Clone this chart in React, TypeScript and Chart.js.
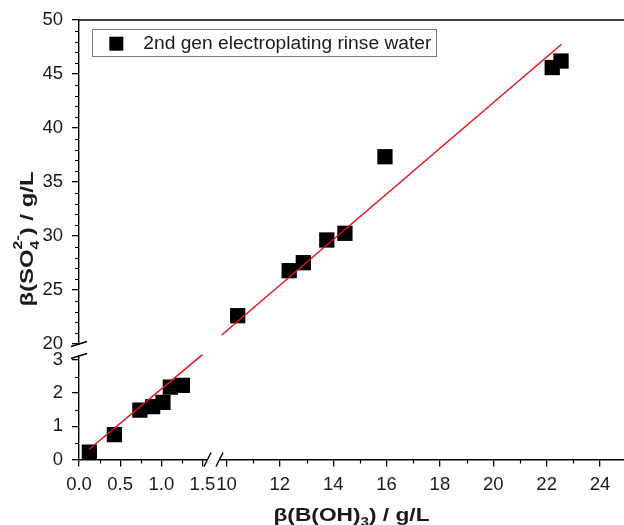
import React, { useEffect, useRef } from 'react';
import { Chart, registerables } from 'chart.js';

Chart.register(...registerables);

// ---------- data ----------
const seriesLabel = '2nd gen electroplating rinse water';

// low concentration range (β(B(OH)3) 0–1.6 g/L, β(SO4 2-) 0–3.5 g/L)
const lowX = [0.126, 0.43, 0.74, 0.895, 1.02, 1.11, 1.256];
const lowY = [0.22, 0.75, 1.49, 1.59, 1.72, 2.18, 2.23];

// high concentration range (β(B(OH)3) 9.5–25 g/L, β(SO4 2-) 20–50 g/L)
const highX = [10.42, 12.35, 12.88, 13.76, 14.44, 15.94, 22.21, 22.54];
const highY = [22.62, 26.79, 27.53, 29.63, 30.25, 37.34, 45.6, 46.2];

// linear fit (red line), drawn on each axis segment
const fitLowX = [0.12, 1.5];
const fitLowY = [0.3, 3.16];
const fitHighX = [9.82, 22.56];
const fitHighY = [20.83, 47.75];

// axis ranges
const xLowRange = [0, 1.628];
const xHighRange = [9.495, 24.9];
const yLowRange = [0, 3.48];
const yHighRange = [20, 50];

// ticks
const xLowTicks = [0, 0.5, 1.0, 1.5];
const xLowMinor = [0.25, 0.75, 1.25];
const xHighTicks = [10, 12, 14, 16, 18, 20, 22, 24];
const xHighMinor = [11, 13, 15, 17, 19, 21, 23];
const yLowTicks = [0, 1, 2, 3];
const yLowMinor = [0.5, 1.5, 2.5];
const yHighTicks = [20, 25, 30, 35, 40, 45, 50];
const yHighMinor = [21, 22, 23, 24, 26, 27, 28, 29, 31, 32, 33, 34, 36, 37, 38, 39, 41, 42, 43, 44, 46, 47, 48, 49];

// ---------- styling ----------
const FONT = "'Liberation Sans', Arial, sans-serif";
const TICK_FONT = { family: FONT, size: 18.5 };
const TEXT = '#1a1a1a';

const toPts = (xs: number[], ys: number[]) => xs.map((x, i) => ({ x, y: ys[i] }));

const setTicks = (values: number[]) => (scale: any) => {
  scale.ticks = values.map((v) => ({ value: v }));
};

const zeroPad = (scale: any) => {
  scale.paddingTop = 0;
  scale.paddingBottom = 0;
  scale.paddingLeft = 0;
  scale.paddingRight = 0;
};
const fitY = (scale: any) => {
  scale.width = 79;
  zeroPad(scale);
};
const fitX = (scale: any) => {
  scale.height = 65.5;
  zeroPad(scale);
};

const axisCommon = {
  type: 'linear' as const,
  offset: false,
  border: { display: true, color: '#000', width: 1.4 },
  grid: { display: true, drawOnChartArea: false, drawTicks: true, tickLength: 7, color: '#000', lineWidth: 1.3 },
};

// draw text as pieces (normal / sub / sup), stretched to target length
function drawPieces(ctx: CanvasRenderingContext2D, pieces: { t: string; size: number; dy: number; sameX?: boolean }[], weight: string, target: number) {
  let total = 0;
  let prevW = 0;
  const widths: number[] = [];
  pieces.forEach((p) => {
    ctx.font = `${weight} ${p.size}px ${FONT}`;
    const w = ctx.measureText(p.t).width;
    widths.push(w);
    if (p.sameX) {
      total += Math.max(0, w - prevW);
    } else {
      total += w;
    }
    prevW = w;
  });
  const sx = target / total;
  ctx.save();
  ctx.scale(sx, 1);
  let x = -total / 2;
  let lastStart = x;
  let lastW = 0;
  pieces.forEach((p, i) => {
    ctx.font = `${weight} ${p.size}px ${FONT}`;
    if (p.sameX) {
      ctx.fillText(p.t, lastStart, p.dy);
      x = Math.max(lastStart + lastW, lastStart + widths[i]);
      lastW = Math.max(lastW, widths[i]);
    } else {
      ctx.fillText(p.t, x, p.dy);
      lastStart = x;
      lastW = widths[i];
      x += widths[i];
    }
  });
  ctx.restore();
}

const decorations = {
  id: 'decorations',
  afterDraw(chart: any) {
    const { ctx, chartArea, scales } = chart;
    const xLow = scales.xLow;
    const xHigh = scales.xHigh;
    const yLow = scales.yLow;
    const yHigh = scales.yHigh;
    ctx.save();

    // top frame line
    ctx.strokeStyle = '#000';
    ctx.lineWidth = 1.4;
    ctx.beginPath();
    ctx.moveTo(chartArea.left, chartArea.top);
    ctx.lineTo(chartArea.right, chartArea.top);
    ctx.stroke();

    // minor ticks
    ctx.lineWidth = 1.2;
    const ax = chartArea.left;
    const ay = chartArea.bottom;
    const minorLen = 4;
    ctx.beginPath();
    [[yLow, yLowMinor], [yHigh, yHighMinor]].forEach(([s, vals]: any) => {
      vals.forEach((v: number) => {
        const p = Math.round(s.getPixelForValue(v)) + 0.5;
        ctx.moveTo(ax, p);
        ctx.lineTo(ax - minorLen, p);
      });
    });
    [[xLow, xLowMinor], [xHigh, xHighMinor]].forEach(([s, vals]: any) => {
      vals.forEach((v: number) => {
        const p = Math.round(s.getPixelForValue(v)) + 0.5;
        ctx.moveTo(p, ay);
        ctx.lineTo(p, ay + minorLen);
      });
    });
    ctx.stroke();

    // x axis break
    const jx = xLow.right;
    ctx.fillStyle = '#fff';
    ctx.fillRect(jx - 5, ay - 2, 11, 4);
    ctx.strokeStyle = '#000';
    ctx.lineWidth = 1.4;
    ctx.beginPath();
    [jx - 5.5, jx + 6.5].forEach((cx) => {
      ctx.moveTo(cx - 3.5, ay + 7);
      ctx.lineTo(cx + 3.5, ay - 7);
    });
    ctx.stroke();

    // y axis break
    const jy = yHigh.bottom;
    ctx.fillStyle = '#fff';
    ctx.fillRect(ax - 2, jy + 1, 4, 10);
    ctx.beginPath();
    [jy, jy + 12].forEach((cy) => {
      ctx.moveTo(ax - 8, cy + 2.5);
      ctx.lineTo(ax + 8, cy - 2.5);
    });
    ctx.stroke();

    // legend
    const lx = chartArea.left + 13.3;
    const ly = chartArea.top + 9.3;
    const lh = 26.7;
    const textX = lx + 51;
    const textW = 288;
    ctx.strokeStyle = '#7a7a7a';
    ctx.lineWidth = 1;
    ctx.strokeRect(Math.round(lx) + 0.5, Math.round(ly) + 0.5, Math.round(textX + textW + 4.5 - lx), Math.round(lh));
    ctx.fillStyle = '#000';
    ctx.fillRect(lx + 17, ly + 7.4, 14, 14);
    ctx.fillStyle = TEXT;
    ctx.font = `18px ${FONT}`;
    ctx.textBaseline = 'alphabetic';
    ctx.textAlign = 'left';
    const mw = ctx.measureText(seriesLabel).width;
    ctx.save();
    ctx.translate(textX, ly + 20);
    ctx.scale(textW / mw, 1);
    ctx.fillText(seriesLabel, 0, 0);
    ctx.restore();

    // x axis title
    ctx.fillStyle = TEXT;
    ctx.save();
    ctx.translate((chartArea.left + chartArea.right) / 2, 521);
    drawPieces(ctx, [
      { t: 'β(B(OH)', size: 18, dy: 0 },
      { t: '3', size: 12, dy: 5 },
      { t: ') / g/L', size: 18, dy: 0 },
    ], 'bold', 156);
    ctx.restore();

    // y axis title
    ctx.save();
    ctx.translate(33, 239);
    ctx.rotate(-Math.PI / 2);
    drawPieces(ctx, [
      { t: 'β(SO', size: 18, dy: 0 },
      { t: '4', size: 12, dy: 6 },
      { t: '2-', size: 12, dy: -11, sameX: true },
      { t: ') / g/L', size: 18, dy: 0 },
    ], 'bold', 135);
    ctx.restore();

    ctx.restore();
  },
};

export default function App() {
  const ref = useRef<HTMLCanvasElement>(null);

  useEffect(() => {
    if (!ref.current) return;
    const chart = new Chart(ref.current, {
      type: 'scatter',
      data: {
        datasets: [
          {
            label: 'fit (low)',
            data: toPts(fitLowX, fitLowY),
            xAxisID: 'xLow',
            yAxisID: 'yLow',
            showLine: true,
            pointRadius: 0,
            borderColor: '#e3121b',
            borderWidth: 1.5,
          },
          {
            label: 'fit (high)',
            data: toPts(fitHighX, fitHighY),
            xAxisID: 'xHigh',
            yAxisID: 'yHigh',
            showLine: true,
            pointRadius: 0,
            borderColor: '#e3121b',
            borderWidth: 1.5,
          },
          {
            label: seriesLabel,
            data: toPts(lowX, lowY),
            xAxisID: 'xLow',
            yAxisID: 'yLow',
            pointStyle: 'rect',
            pointRadius: 10.8,
            backgroundColor: '#000',
            borderColor: '#000',
            borderWidth: 0,
          },
          {
            label: seriesLabel,
            data: toPts(highX, highY),
            xAxisID: 'xHigh',
            yAxisID: 'yHigh',
            pointStyle: 'rect',
            pointRadius: 10.8,
            backgroundColor: '#000',
            borderColor: '#000',
            borderWidth: 0,
          },
        ],
      },
      options: {
        responsive: false,
        animation: false,
        devicePixelRatio: 1,
        layout: { autoPadding: false, padding: { top: 20, right: 0, bottom: 0, left: 0 } },
        plugins: {
          legend: { display: false },
          tooltip: { enabled: false },
        },
        scales: {
          xLow: {
            ...axisCommon,
            position: 'bottom',
            stack: 'xs',
            stackWeight: 134,
            min: xLowRange[0],
            max: xLowRange[1],
            afterBuildTicks: setTicks(xLowTicks),
            afterFit: fitX,
            ticks: {
              font: TICK_FONT,
              color: TEXT,
              padding: 7,
              autoSkip: false,
              maxRotation: 0,
              minRotation: 0,
              callback: (v: any) => Number(v).toFixed(1),
            },
          },
          xHigh: {
            ...axisCommon,
            position: 'bottom',
            stack: 'xs',
            stackWeight: 411,
            min: xHighRange[0],
            max: xHighRange[1],
            afterBuildTicks: setTicks(xHighTicks),
            afterFit: fitX,
            ticks: {
              font: TICK_FONT,
              color: TEXT,
              padding: 7,
              autoSkip: false,
              maxRotation: 0,
              minRotation: 0,
              callback: (v: any) => String(v),
            },
          },
          yLow: {
            ...axisCommon,
            position: 'left',
            stack: 'ys',
            stackWeight: 115.5,
            min: yLowRange[0],
            max: yLowRange[1],
            afterBuildTicks: setTicks(yLowTicks),
            afterFit: fitY,
            ticks: {
              font: TICK_FONT,
              color: TEXT,
              padding: 9,
              autoSkip: false,
              callback: (v: any) => String(v),
            },
          },
          yHigh: {
            ...axisCommon,
            position: 'left',
            stack: 'ys',
            stackWeight: 324,
            min: yHighRange[0],
            max: yHighRange[1],
            afterBuildTicks: setTicks(yHighTicks),
            afterFit: fitY,
            ticks: {
              font: TICK_FONT,
              color: TEXT,
              padding: 9,
              autoSkip: false,
              callback: (v: any) => String(v),
            },
          },
        },
      },
      plugins: [decorations],
    } as any);
    return () => chart.destroy();
  }, []);

  return (
    <div style={{ position: 'fixed', left: 0, top: 0, width: 624, height: 525, overflow: 'hidden', background: '#fff' }}>
      <canvas ref={ref} width={624} height={525} style={{ display: 'block' }} />
    </div>
  );
}
